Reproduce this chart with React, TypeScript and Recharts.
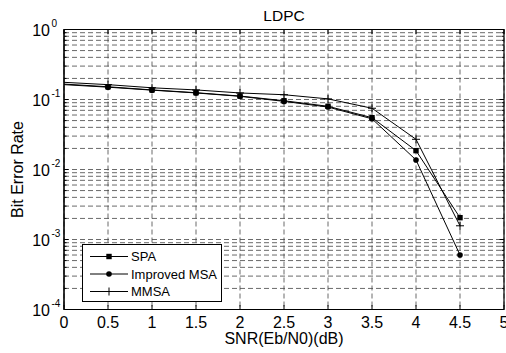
import React from 'react';
import {
  LineChart,
  Line,
  XAxis,
  YAxis,
  CartesianGrid,
  ReferenceArea,
} from 'recharts';

const FONT = '"Liberation Sans", Arial, Helvetica, sans-serif';

// SNR points in dB
const snr = [0, 0.5, 1, 1.5, 2, 2.5, 3, 3.5, 4, 4.5];
// bit error rates
const spa = [0.166, 0.152, 0.137, 0.125, 0.112, 0.096, 0.08, 0.055, 0.0186, 0.00205];
const improvedMsa = [0.163, 0.15, 0.136, 0.124, 0.111, 0.094, 0.078, 0.053, 0.0137, 0.0006];
const mmsa = [0.176, 0.163, 0.147, 0.137, 0.124, 0.117, 0.102, 0.075, 0.027, 0.00157];

const xTicks = [0, 0.5, 1, 1.5, 2, 2.5, 3, 3.5, 4, 4.5, 5];
const decades = [-4, -3, -2, -1];
const minorSteps = [1, 2, 3, 4, 5, 6, 7, 8, 9];

const yTicks = [
  ...decades.flatMap((d) => minorSteps.map((m) => m * Math.pow(10, d))),
  1,
];

const data = snr.map((x, i) => ({
  snr: x,
  spa: spa[i],
  improvedMsa: improvedMsa[i],
  mmsa: mmsa[i],
}));

const W = 506;
const H = 353;
const MARGIN = { top: 29.5, right: 2, left: 0, bottom: 0 };
const Y_AXIS_W = 64;
const X_AXIS_H = 43.5;
// plot box edges, for the inward tick marks
const PLOT_TOP = MARGIN.top;
const PLOT_BOTTOM = H - X_AXIS_H;
const PLOT_LEFT = Y_AXIS_W;
const PLOT_RIGHT = W - MARGIN.right;

function isDecade(v: number) {
  const l = Math.log10(v);
  return Math.abs(l - Math.round(l)) < 1e-6;
}

const YTick = (props: any) => {
  const { y, payload } = props;
  const major = isDecade(payload.value);
  const len = major ? 4.5 : 2.5;
  return (
    <g>
      <line x1={PLOT_LEFT} x2={PLOT_LEFT + len} y1={y} y2={y} stroke="#000" />
      <line x1={PLOT_RIGHT} x2={PLOT_RIGHT - len} y1={y} y2={y} stroke="#000" />
      {major && (
        <>
          <text x={PLOT_LEFT - 14} y={y + 6.5} textAnchor="end" fontSize={16} fontFamily={FONT} fill="#000">
            10
          </text>
          <text x={PLOT_LEFT - 12.5} y={y - 2.5} textAnchor="start" fontSize={10} fontFamily={FONT} fill="#000">
            {Math.round(Math.log10(payload.value))}
          </text>
        </>
      )}
    </g>
  );
};

const XTick = (props: any) => {
  const { x, payload } = props;
  return (
    <g>
      <line x1={x} x2={x} y1={PLOT_BOTTOM} y2={PLOT_BOTTOM - 4.5} stroke="#000" />
      <line x1={x} x2={x} y1={PLOT_TOP} y2={PLOT_TOP + 4.5} stroke="#000" />
      <text x={x} y={PLOT_BOTTOM + 18.5} textAnchor="middle" fontSize={16} fontFamily={FONT} fill="#000">
        {payload.value}
      </text>
    </g>
  );
};

const Square = ({ cx, cy }: any) => (
  <rect x={cx - 2.7} y={cy - 2.7} width={5.4} height={5.4} fill="#000" />
);
const Circle = ({ cx, cy }: any) => <circle cx={cx} cy={cy} r={2.8} fill="#000" />;
const Plus = ({ cx, cy }: any) => (
  <path d={`M${cx - 4},${cy}H${cx + 4}M${cx},${cy - 4}V${cy + 4}`} stroke="#000" strokeWidth={1} />
);

const makeDot = (Marker: any) => (props: any) => {
  const { cx, cy, index } = props;
  if (index === 0 || cx == null || cy == null) return <g key={`d-${index}`} />;
  return <Marker key={`d-${index}`} cx={cx} cy={cy} />;
};

const legendItems = [
  { label: 'SPA', Marker: Square },
  { label: 'Improved MSA', Marker: Circle },
  { label: 'MMSA', Marker: Plus },
];

const LegendBox = () => (
  <svg width={140} height={58} style={{ display: 'block' }}>
    <rect x={0.5} y={0.5} width={139} height={57} fill="#fff" stroke="#000" />
    {legendItems.map((item, i) => {
      const cy = 12.5 + i * 17.5;
      const M = item.Marker;
      return (
        <g key={item.label}>
          <line x1={8} x2={46} y1={cy} y2={cy} stroke="#000" />
          <M cx={27} cy={cy} />
          <text x={49} y={cy + 4.5} fontSize={13} fontFamily={FONT} fill="#000">
            {item.label}
          </text>
        </g>
      );
    })}
  </svg>
);

export default function App() {
  return (
    <div style={{ position: 'absolute', left: 0, top: 0, width: W, height: H, background: '#fff' }}>
      <LineChart width={W} height={H} data={data} margin={MARGIN}>
        <CartesianGrid stroke="#444" strokeDasharray="5 3" strokeWidth={0.8} />
        <XAxis
          dataKey="snr"
          type="number"
          domain={[0, 5]}
          ticks={xTicks}
          interval={0}
          height={X_AXIS_H}
          tickLine={false}
          tickSize={0}
          tickMargin={0}
          axisLine={{ stroke: '#000' }}
          tick={<XTick />}
        />
        <YAxis
          type="number"
          scale="log"
          domain={[1e-4, 1]}
          allowDataOverflow
          ticks={yTicks}
          interval={0}
          width={Y_AXIS_W}
          tickLine={false}
          tickSize={0}
          tickMargin={0}
          axisLine={{ stroke: '#000' }}
          tick={<YTick />}
        />
        <ReferenceArea x1={0} x2={5} y1={1e-4} y2={1} fill="none" stroke="#000" strokeWidth={1.2} ifOverflow="visible" />
        <Line
          dataKey="spa"
          name="SPA"
          type="linear"
          stroke="#000"
          strokeWidth={1}
          dot={makeDot(Square)}
          isAnimationActive={false}
        />
        <Line
          dataKey="improvedMsa"
          name="Improved MSA"
          type="linear"
          stroke="#000"
          strokeWidth={1}
          dot={makeDot(Circle)}
          isAnimationActive={false}
        />
        <Line
          dataKey="mmsa"
          name="MMSA"
          type="linear"
          stroke="#000"
          strokeWidth={1}
          dot={makeDot(Plus)}
          isAnimationActive={false}
        />
      </LineChart>
      <div style={{ position: 'absolute', left: 82, top: 244 }}>
        <LegendBox />
      </div>
      <svg
        width={W}
        height={H}
        style={{ position: 'absolute', left: 0, top: 0, pointerEvents: 'none' }}
      >
        <text x={284} y={20.5} textAnchor="middle" fontSize={15.5} fontFamily={FONT} fill="#000">
          LDPC
        </text>
        <text x={284} y={344} textAnchor="middle" fontSize={16} fontFamily={FONT} fill="#000">
          SNR(Eb/N0)(dB)
        </text>
        <text
          x={0}
          y={0}
          transform="translate(23,169.5) rotate(-90)"
          textAnchor="middle"
          fontSize={16}
          fontFamily={FONT}
          fill="#000"
        >
          Bit Error Rate
        </text>
      </svg>
    </div>
  );
}
